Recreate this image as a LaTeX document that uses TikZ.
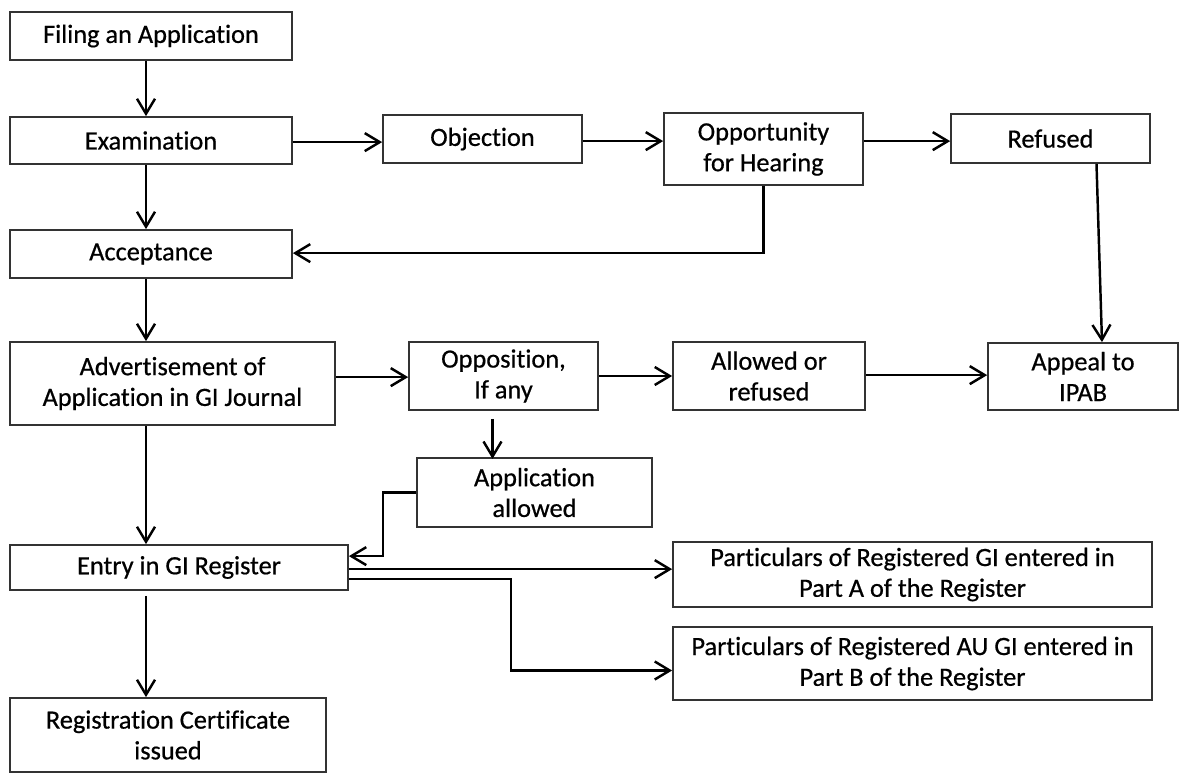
\documentclass[tikz,border=0pt]{standalone}
\usepackage{fontspec}
\setmainfont{Carlito}
\newfontfamily\stagefont{Carlito}[FakeBold=0.6, Ligatures=NoCommon]
\usetikzlibrary{positioning, arrows.meta, calc}

\tikzset{
  stage/.style={draw=black!80, line width=1pt, fill=white, align=center, inner sep=1pt,
    font=\stagefont\fontsize{15}{17.5}\selectfont},
  flow/.style={-{Straight Barb[length=3mm,width=3.6mm]}, line width=1.4pt},
}

\begin{document}
\begin{tikzpicture}[x=0.02cm, y=-0.02cm]
  \useasboundingbox (0,0) rectangle (1184,774);
  \coordinate (spine) at (146,0);

  % boxes: name / left / top / right / bottom / text
  \foreach \nm/\xa/\ya/\xb/\yb/\txt in {
      filing/10/12/292/60/{Filing an Application},
      exam/10/117/292/164/{Examination},
      objection/383/115/582/163/{Objection},
      hearing/664/113/863/185/{Opportunity\\for Hearing},
      refused/951/114/1150/163/{Refused},
      accept/10/230/292/278/{Acceptance},
      advert/10/342/335/425/{Advertisement of\\Application in GI Journal},
      opposition/409/342/598/410/{Opposition,\\If any},
      allowed/673/342/865/410/{Allowed or\\refused},
      appeal/988/343/1178/410/{Appeal to\\IPAB},
      applallowed/417/458/652/527/{Application\\allowed},
      entry/10/545/348/590/{Entry in GI Register},
      partA/673/542/1152/607/{Particulars of Registered GI entered in\\Part A of the Register},
      partB/673/627/1152/700/{Particulars of Registered AU GI entered in\\Part B of the Register},
      regcert/10/698/326/772/{Registration Certificate\\issued}} {
    \node[stage, minimum width={(\xb-\xa)*0.02cm}, minimum height={(\yb-\ya)*0.02cm}]
      (\nm) at ({(\xa+\xb)/2},{(\ya+\yb)/2}) {\txt};
  }

  % main column
  \draw[flow] (filing.south -| spine) -- (exam.north -| spine);
  \draw[flow] (exam.south -| spine) -- (accept.north -| spine);
  \draw[flow] (accept.south -| spine) -- (advert.north -| spine);
  \draw[flow] (advert.south -| spine) -- (entry.north -| spine);
  \draw[flow] ($(entry.south -| spine)+(0,5)$) -- (regcert.north -| spine);

  % objection branch
  \draw[flow] ($(exam.north east)+(0,26)$) -- ($(objection.north west)+(0,28)$);
  \draw[flow] ($(objection.north east)+(0,27)$) -- ($(hearing.north west)+(0,29)$);
  \draw[flow] ($(hearing.north east)+(0,29)$) -- ($(refused.north west)+(0,28)$);
  \draw[flow] (hearing.south) |- ($(accept.north east)+(0,24)$);
  \draw[flow] ($(refused.south)+(46,0)$) -- ($(appeal.north)+(19,0)$);

  % opposition branch
  \draw[flow] ($(advert.north east)+(0,36)$) -- ($(opposition.north west)+(0,36)$);
  \draw[flow] (opposition.east) -- (allowed.west);
  \draw[flow] ($(allowed.north east)+(0,34)$) -- ($(appeal.north west)+(0,33)$);
  \draw[flow] ($(opposition.south)+(-11,8)$) -- ($(opposition.south)+(-11,48)$);
  \draw[flow] (applallowed.west) -- ++(-33,0) |- ($(entry.north east)+(0,12)$);

  % register parts
  \draw[flow] ($(entry.north east)+(0,25)$) -- ($(partA.north west)+(0,28)$);
  \draw[flow] ($(entry.north east)+(0,35)$) -| ($(partB.west)+(-161,7)$) -- ($(partB.west)+(0,7)$);
\end{tikzpicture}
\end{document}
